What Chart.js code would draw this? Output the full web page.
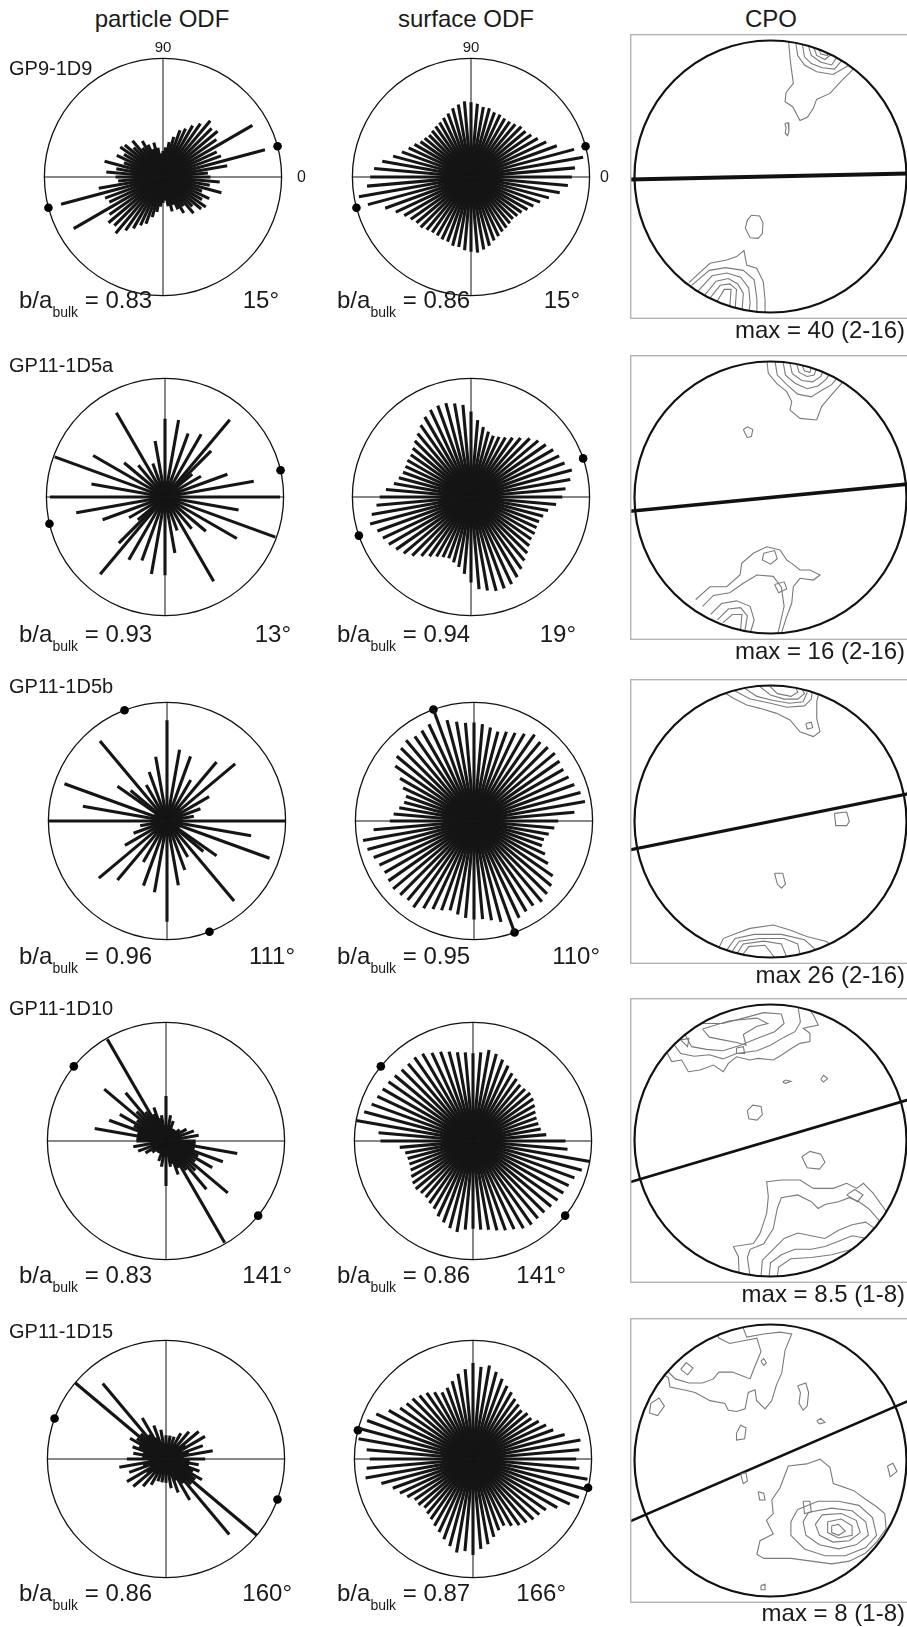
<!DOCTYPE html>
<html>
<head>
<meta charset="utf-8">
<script src="https://cdn.jsdelivr.net/npm/chart.js@4.4.1/dist/chart.umd.min.js"></script>
<style>
  html, body { margin: 0; padding: 0; background: #fff; }
  body { position: relative; width: 907px; height: 1627px; overflow: hidden;
         font-family: 'Liberation Sans', Arial, sans-serif; color: #1a1a1a; }
  canvas { position: absolute; }
  .lbl { position: absolute; white-space: nowrap; line-height: 1; }
</style>
</head>
<body>
<script>
// Datos
const samples = ['GP9-1D9', 'GP11-1D5a', 'GP11-1D5b', 'GP11-1D10', 'GP11-1D15']
const binAngles = [0, 5, 10, 15, 20, 25, 30, 35, 40, 45, 50, 55, 60, 65, 70, 75, 80, 85,
  90, 95, 100, 105, 110, 115, 120, 125, 130, 135, 140, 145, 150, 155, 160, 165, 170, 175]

// Longitudes de los radios (fracción del radio), una por clase de 5°
const particle1 = [0.40, 0.38, 0.55, 0.89, 0.52, 0.50, 0.87, 0.55, 0.60, 0.58, 0.62, 0.55,
  0.50, 0.45, 0.42, 0.35, 0.30, 0.25, 0.22, 0.20, 0.25, 0.30, 0.25, 0.30,
  0.35, 0.30, 0.40, 0.35, 0.42, 0.44, 0.38, 0.43, 0.35, 0.51, 0.40, 0.48]
const particle2 = [0.97, 0, 0.76, 0.10, 0.56, 0.12, 0.35, 0.10, 0.30, 0.55, 0.85, 0.10,
  0.61, 0.12, 0.57, 0.10, 0.66, 0.08, 0.66, 0.10, 0.48, 0.12, 0.30, 0.10,
  0.82, 0.10, 0.35, 0.12, 0.45, 0.10, 0.70, 0.10, 0.99, 0.08, 0.63, 0.10]
const particle3 = [1.00, 0.10, 0.23, 0.08, 0.30, 0.10, 0.41, 0.10, 0.75, 0.15, 0.65, 0.10,
  0.40, 0.12, 0.58, 0.15, 0.61, 0.10, 0.85, 0.12, 0.55, 0.10, 0.44, 0.10,
  0.35, 0.10, 0.88, 0.12, 0.40, 0.51, 0.12, 0.08, 0.92, 0.10, 0.72, 0.08]
const particle4 = [0.25, 0.10, 0.28, 0.12, 0.25, 0.10, 0.20, 0.10, 0.15, 0.08, 0.12, 0.08,
  0.12, 0.08, 0.18, 0.10, 0.22, 0.10, 0.38, 0.10, 0.22, 0.20, 0.30, 0.25,
  0.99, 0.30, 0.53, 0.35, 0.68, 0.30, 0.45, 0.30, 0.51, 0.25, 0.61, 0.25]
const particle5 = [0.33, 0.15, 0.40, 0.20, 0.33, 0.15, 0.38, 0.20, 0.36, 0.15, 0.30, 0.15,
  0.25, 0.12, 0.20, 0.12, 0.20, 0.12, 0.20, 0.12, 0.25, 0.15, 0.30, 0.20,
  0.40, 0.25, 0.83, 0.30, 1.00, 0.30, 0.35, 0.25, 0.30, 0.20, 0.28, 0.20]

const surface1 = [0.85, 0.88, 0.96, 0.90, 0.77, 0.70, 0.65, 0.62, 0.60, 0.60, 0.58, 0.57,
  0.57, 0.58, 0.58, 0.60, 0.60, 0.62, 0.63, 0.64, 0.62, 0.60, 0.57, 0.55,
  0.53, 0.52, 0.51, 0.50, 0.51, 0.52, 0.55, 0.58, 0.62, 0.68, 0.76, 0.82]
const surface2 = [0.77, 0.80, 0.85, 0.88, 0.84, 0.82, 0.80, 0.77, 0.74, 0.70, 0.65, 0.61,
  0.58, 0.56, 0.55, 0.57, 0.60, 0.65, 0.72, 0.78, 0.80, 0.82, 0.82, 0.81,
  0.78, 0.74, 0.70, 0.67, 0.64, 0.62, 0.62, 0.61, 0.61, 0.63, 0.66, 0.72]
const surface3 = [0.71, 0.85, 0.95, 0.93, 0.90, 0.88, 0.87, 0.88, 0.89, 0.88, 0.87, 0.89,
  0.85, 0.82, 0.80, 0.78, 0.80, 0.82, 0.83, 0.83, 0.85, 0.88, 1.00, 0.90,
  0.88, 0.87, 0.89, 0.87, 0.85, 0.81, 0.72, 0.66, 0.61, 0.61, 0.64, 0.68]
const surface4 = [0.78, 0.62, 0.58, 0.57, 0.57, 0.58, 0.60, 0.62, 0.63, 0.62, 0.62, 0.64,
  0.66, 0.70, 0.73, 0.76, 0.78, 0.75, 0.74, 0.75, 0.76, 0.78, 0.80, 0.82,
  0.85, 0.86, 0.85, 0.85, 0.86, 0.87, 0.88, 0.89, 0.91, 0.95, 1.00, 0.80]
const surface5 = [0.87, 0.90, 0.92, 0.80, 0.72, 0.68, 0.64, 0.60, 0.60, 0.58, 0.60, 0.62,
  0.65, 0.68, 0.72, 0.76, 0.80, 0.78, 0.81, 0.76, 0.73, 0.68, 0.64, 0.62,
  0.65, 0.68, 0.70, 0.72, 0.73, 0.75, 0.82, 0.90, 0.95, 1.00, 0.98, 0.90]

// Orientación media (°) y b/a
const particleMean = [15, 13, 111, 141, 160]
const surfaceMean = [15, 19, 110, 141, 166]
const particleBulk = ['0.83', '0.93', '0.96', '0.83', '0.86']
const surfaceBulk = ['0.86', '0.94', '0.95', '0.86', '0.87']

// CPO: máximos, rumbo del plano y contornos (coordenadas de la red, radio 1)
const cpoMax = ['max = 40 (2-16)', 'max = 16 (2-16)', 'max 26 (2-16)', 'max = 8.5 (1-8)', 'max = 8 (1-8)']
const cpoTrend = [1.2, 5.6, 11.4, 16.5, 23.4]

const cpo1 = [
  [0.13, 1.02, 0.148, 0.832, 0.168, 0.685, 0.114, 0.616, 0.107, 0.55, 0.163, 0.513, 0.217, 0.411, 0.271, 0.435, 0.315, 0.501, 0.339, 0.567, 0.437, 0.611, 0.516, 0.697, 0.62, 0.8],
  [0.18, 1.02, 0.2, 0.89, 0.25, 0.82, 0.34, 0.77, 0.46, 0.75, 0.58, 0.82],
  [0.23, 1.0, 0.25, 0.88, 0.3, 0.83, 0.38, 0.8, 0.47, 0.79, 0.53, 0.86],
  [0.27, 0.99, 0.3, 0.89, 0.37, 0.84, 0.45, 0.82, 0.49, 0.88],
  [0.31, 0.97, 0.34, 0.89, 0.4, 0.86, 0.45, 0.9],
  [0.35, 0.95, 0.37, 0.9, 0.42, 0.89, 0.42, 0.92],
  [0.105, 0.39, 0.13, 0.395, 0.135, 0.33, 0.125, 0.3, 0.108, 0.32, 0.115, 0.36, 0.105, 0.39],
  [-0.14, -0.285, -0.08, -0.29, -0.055, -0.34, -0.06, -0.42, -0.09, -0.455, -0.15, -0.45, -0.185, -0.38, -0.17, -0.32, -0.14, -0.285],
  [-0.6, -0.78, -0.445, -0.638, -0.322, -0.614, -0.249, -0.589, -0.195, -0.545, -0.175, -0.651, -0.102, -0.675, -0.053, -0.773, -0.04, -0.908, -0.04, -1.03],
  [-0.58, -0.8, -0.45, -0.69, -0.33, -0.67, -0.2, -0.69, -0.12, -0.76, -0.1, -0.9, -0.1, -1.02],
  [-0.54, -0.85, -0.43, -0.73, -0.32, -0.71, -0.22, -0.74, -0.16, -0.82, -0.15, -0.93, -0.16, -1.0],
  [-0.49, -0.88, -0.4, -0.77, -0.31, -0.75, -0.24, -0.79, -0.2, -0.86, -0.21, -1.0],
  [-0.45, -0.9, -0.37, -0.8, -0.3, -0.79, -0.25, -0.83, -0.26, -0.98],
  [-0.4, -0.93, -0.34, -0.83, -0.29, -0.83, -0.3, -0.96],
]
const cpo2 = [
  [-0.03, 1.03, -0.016, 0.913, 0.045, 0.839, 0.119, 0.778, 0.156, 0.705, 0.143, 0.643, 0.217, 0.582, 0.339, 0.57, 0.376, 0.668, 0.437, 0.741, 0.511, 0.827, 0.56, 0.88],
  [0.03, 1.02, 0.05, 0.9, 0.12, 0.83, 0.2, 0.76, 0.3, 0.74, 0.38, 0.79, 0.45, 0.83, 0.5, 0.89],
  [0.09, 1.01, 0.11, 0.9, 0.18, 0.84, 0.27, 0.8, 0.35, 0.82, 0.41, 0.87, 0.44, 0.92],
  [0.14, 1.0, 0.16, 0.91, 0.23, 0.86, 0.31, 0.85, 0.37, 0.89, 0.39, 0.94],
  [0.19, 0.99, 0.21, 0.92, 0.27, 0.89, 0.32, 0.9, 0.34, 0.95],
  [0.23, 0.98, 0.25, 0.93, 0.29, 0.92, 0.3, 0.96],
  [-0.2, 0.5, -0.17, 0.52, -0.13, 0.5, -0.14, 0.45, -0.17, 0.44, -0.2, 0.5],
  [-0.55, -0.75, -0.445, -0.656, -0.322, -0.656, -0.224, -0.57, -0.212, -0.484, -0.126, -0.41, -0.028, -0.362, 0.07, -0.386, 0.119, -0.46, 0.156, -0.484, 0.217, -0.533, 0.29, -0.533, 0.364, -0.57, 0.315, -0.607, 0.217, -0.594, 0.168, -0.656, 0.156, -0.778, 0.119, -0.876, 0.07, -1.03],
  [-0.05, -0.41, 0.03, -0.39, 0.05, -0.45, 0.0, -0.49, -0.06, -0.46, -0.05, -0.41],
  [-0.5, -0.8, -0.42, -0.72, -0.3, -0.7, -0.2, -0.63, -0.1, -0.57, 0.02, -0.58, 0.08, -0.66, 0.1, -0.8, 0.05, -1.02],
  [0.03, -0.64, 0.1, -0.62, 0.12, -0.67, 0.06, -0.7, 0.03, -0.64],
  [-0.44, -0.86, -0.36, -0.78, -0.25, -0.76, -0.15, -0.8, -0.12, -0.9, -0.15, -1.0],
  [-0.39, -0.9, -0.31, -0.82, -0.22, -0.81, -0.17, -0.87, -0.19, -0.99],
  [-0.35, -0.92, -0.28, -0.86, -0.21, -0.86, -0.22, -0.97],
]
const cpo3 = [
  [-0.39, 0.98, -0.273, 0.906, -0.175, 0.857, -0.077, 0.832, 0.045, 0.795, 0.143, 0.747, 0.217, 0.66, 0.315, 0.624, 0.364, 0.66, 0.34, 0.758, 0.34, 0.881, 0.37, 1.0],
  [-0.32, 0.99, -0.15, 0.9, 0.0, 0.87, 0.12, 0.84, 0.25, 0.85, 0.3, 0.9, 0.31, 0.98],
  [-0.22, 1.0, -0.1, 0.92, 0.02, 0.89, 0.14, 0.87, 0.24, 0.88, 0.27, 0.95],
  [-0.1, 1.01, 0.0, 0.93, 0.1, 0.9, 0.2, 0.9, 0.25, 0.94, 0.22, 1.0],
  [-0.02, 1.01, 0.05, 0.94, 0.15, 0.92, 0.2, 0.95, 0.18, 1.0],
  [0.26, 0.72, 0.3, 0.73, 0.31, 0.69, 0.27, 0.68, 0.26, 0.72],
  [0.47, 0.06, 0.56, 0.07, 0.58, 0.0, 0.56, -0.03, 0.48, -0.03, 0.47, 0.06],
  [0.03, -0.38, 0.09, -0.38, 0.11, -0.46, 0.08, -0.49, 0.05, -0.46, 0.03, -0.38],
  [-0.4, -0.97, -0.346, -0.859, -0.248, -0.822, -0.15, -0.786, 0.021, -0.761, 0.143, -0.798, 0.266, -0.846, 0.413, -0.883, 0.46, -0.93],
  [-0.34, -0.97, -0.26, -0.86, -0.12, -0.83, 0.08, -0.83, 0.25, -0.87, 0.34, -0.95],
  [-0.3, -0.98, -0.23, -0.88, -0.08, -0.86, 0.1, -0.86, 0.2, -0.9, 0.22, -0.99],
  [-0.26, -0.99, -0.2, -0.9, -0.05, -0.88, 0.08, -0.9, 0.12, -1.0],
  [-0.22, -1.0, -0.16, -0.92, -0.04, -0.91, 0.03, -1.0],
]
const cpo4 = [
  [-0.78, 0.68, -0.726, 0.58, -0.653, 0.592, -0.604, 0.506, -0.518, 0.518, -0.42, 0.555, -0.347, 0.506, -0.31, 0.567, -0.249, 0.616, -0.151, 0.592, -0.09, 0.604, 0.021, 0.592, 0.082, 0.629, 0.156, 0.678, 0.217, 0.714, 0.29, 0.727, 0.29, 0.788, 0.241, 0.825, 0.352, 0.849, 0.315, 0.923, 0.26, 1.0],
  [-0.72, 0.72, -0.66, 0.64, -0.56, 0.62, -0.45, 0.63, -0.35, 0.6, -0.25, 0.64, -0.1, 0.66, 0.0, 0.7, 0.1, 0.76, 0.18, 0.8, 0.22, 0.87, 0.2, 1.0],
  [-0.64, 0.8, -0.58, 0.69, -0.47, 0.67, -0.35, 0.66, -0.22, 0.7, -0.1, 0.75, 0.03, 0.8, 0.1, 0.86, 0.08, 0.93, -0.05, 0.94, -0.2, 0.9, -0.35, 0.86, -0.5, 0.86, -0.55, 0.86],
  [-0.5, 0.82, -0.45, 0.76, -0.35, 0.74, -0.25, 0.72, -0.18, 0.7, -0.2, 0.78, -0.1, 0.84, -0.02, 0.86, -0.1, 0.9, -0.3, 0.88, -0.5, 0.82],
  [-0.25, 0.68, -0.2, 0.69, -0.19, 0.64, -0.25, 0.64, -0.25, 0.68],
  [-0.66, 0.74, -0.6, 0.75, -0.61, 0.69, -0.66, 0.74],
  [0.09, 0.43, 0.11, 0.445, 0.15, 0.435, 0.11, 0.42, 0.09, 0.43],
  [0.37, 0.45, 0.39, 0.48, 0.42, 0.455, 0.39, 0.43, 0.37, 0.45],
  [-0.17, 0.22, -0.13, 0.26, -0.07, 0.25, -0.06, 0.19, -0.1, 0.15, -0.16, 0.16, -0.17, 0.22],
  [0.23, -0.12, 0.29, -0.08, 0.37, -0.1, 0.4, -0.16, 0.36, -0.21, 0.27, -0.2, 0.23, -0.12],
  [-0.23, -1.0, -0.236, -0.854, -0.273, -0.78, -0.126, -0.757, -0.077, -0.683, -0.028, -0.536, -0.016, -0.413, -0.028, -0.303, 0.082, -0.29, 0.217, -0.29, 0.315, -0.352, 0.462, -0.352, 0.56, -0.315, 0.634, -0.352, 0.683, -0.315, 0.756, -0.389, 0.85, -0.52],
  [-0.15, -1.0, -0.17, -0.86, -0.15, -0.8, -0.05, -0.76, 0.02, -0.65, 0.05, -0.5, 0.08, -0.42, 0.2, -0.4, 0.3, -0.45, 0.35, -0.5, 0.4, -0.47, 0.5, -0.45, 0.58, -0.42, 0.65, -0.45, 0.72, -0.5, 0.81, -0.6],
  [0.56, -0.4, 0.62, -0.36, 0.68, -0.4, 0.64, -0.45, 0.56, -0.4],
  [-0.07, -1.0, -0.06, -0.88, 0.02, -0.8, 0.1, -0.72, 0.2, -0.68, 0.3, -0.7, 0.4, -0.72, 0.5, -0.66, 0.6, -0.62, 0.7, -0.6, 0.77, -0.65],
  [-0.01, -1.0, 0.0, -0.9, 0.08, -0.84, 0.18, -0.8, 0.3, -0.8, 0.4, -0.78, 0.5, -0.74, 0.6, -0.7, 0.71, -0.72],
  [0.05, -1.0, 0.06, -0.93, 0.15, -0.87, 0.3, -0.86, 0.45, -0.84, 0.6, -0.8],
]
const cpo5 = [
  [-0.21, 1.0, -0.175, 0.907, -0.05, 0.93, 0.07, 0.944, 0.156, 0.931, 0.107, 0.81, 0.082, 0.64, 0.045, 0.56, 0.009, 0.44, -0.04, 0.38, -0.102, 0.44, -0.114, 0.52, -0.163, 0.5, -0.187, 0.38, -0.249, 0.36, -0.31, 0.37, -0.335, 0.42, -0.445, 0.44, -0.555, 0.5, -0.616, 0.515, -0.739, 0.54, -0.751, 0.61, -0.8, 0.64],
  [-0.76, 0.66, -0.7, 0.6, -0.6, 0.57, -0.5, 0.57, -0.42, 0.6, -0.38, 0.65, -0.28, 0.65, -0.2, 0.62, -0.15, 0.6, -0.12, 0.68, -0.07, 0.8, -0.1, 0.9, -0.2, 0.88, -0.3, 0.86, -0.38, 0.9, -0.4, 0.95],
  [-0.66, 0.67, -0.62, 0.72, -0.57, 0.68, -0.61, 0.63, -0.66, 0.67],
  [-0.07, 0.73, -0.05, 0.75, -0.03, 0.72, -0.05, 0.7, -0.07, 0.73],
  [0.2, 0.55, 0.26, 0.57, 0.28, 0.5, 0.27, 0.4, 0.24, 0.37, 0.21, 0.42, 0.22, 0.5, 0.2, 0.55],
  [0.34, 0.29, 0.37, 0.31, 0.4, 0.28, 0.36, 0.27, 0.34, 0.29],
  [-0.25, 0.2, -0.22, 0.26, -0.18, 0.24, -0.19, 0.16, -0.25, 0.15, -0.25, 0.2],
  [-0.88, 0.42, -0.82, 0.46, -0.78, 0.4, -0.83, 0.33, -0.89, 0.35, -0.88, 0.42],
  [-0.22, -0.1, -0.18, -0.09, -0.17, -0.15, -0.2, -0.17, -0.22, -0.1],
  [-0.09, -0.23, -0.05, -0.24, -0.04, -0.29, -0.08, -0.29, -0.09, -0.23],
  [0.86, -0.04, 0.9, -0.02, 0.93, -0.08, 0.88, -0.12, 0.86, -0.04],
  [0.131, -0.04, 0.266, -0.025, 0.364, 0.01, 0.437, -0.05, 0.462, -0.17, 0.609, -0.22, 0.707, -0.29, 0.78, -0.34, 0.84, -0.39, 0.85, -0.5, 0.78, -0.6, 0.7, -0.68, 0.58, -0.74, 0.45, -0.76, 0.3, -0.74, 0.15, -0.72, -0.05, -0.72, -0.1, -0.69, -0.077, -0.59, 0.02, -0.54, -0.03, -0.44, 0.02, -0.39, 0.01, -0.29, 0.07, -0.2, 0.131, -0.04],
  [0.2, -0.36, 0.35, -0.3, 0.5, -0.3, 0.65, -0.33, 0.75, -0.42, 0.78, -0.55, 0.7, -0.64, 0.55, -0.7, 0.4, -0.7, 0.25, -0.65, 0.15, -0.55, 0.15, -0.45, 0.2, -0.36],
  [0.28, -0.38, 0.45, -0.35, 0.6, -0.37, 0.7, -0.45, 0.72, -0.55, 0.63, -0.62, 0.5, -0.65, 0.36, -0.62, 0.26, -0.55, 0.24, -0.45, 0.28, -0.38],
  [0.38, -0.4, 0.52, -0.39, 0.63, -0.44, 0.66, -0.53, 0.58, -0.59, 0.46, -0.6, 0.36, -0.55, 0.33, -0.47, 0.38, -0.4],
  [0.42, -0.45, 0.52, -0.43, 0.6, -0.48, 0.6, -0.55, 0.5, -0.57, 0.42, -0.53, 0.42, -0.45],
  [0.45, -0.48, 0.5, -0.47, 0.55, -0.52, 0.5, -0.55, 0.45, -0.53, 0.45, -0.48],
  [0.24, -0.3, 0.29, -0.3, 0.3, -0.38, 0.25, -0.39, 0.24, -0.3],
  [-0.07, -0.92, -0.04, -0.91, -0.04, -0.95, -0.07, -0.95, -0.07, -0.92],
]

const particleRows = [particle1, particle2, particle3, particle4, particle5]
const surfaceRows = [surface1, surface2, surface3, surface4, surface5]
const cpoRows = [cpo1, cpo2, cpo3, cpo4, cpo5]

// Maquetación (px)
const R = 122.5
const RC = 136
const rowY = [176.5, 497, 820.5, 1141, 1458.5]
const particleX = [163, 165, 167, 166, 166]
const surfaceX = [471, 471, 474, 473, 473]
const cpoX = 770.5
const cpoY = [176.5, 497.5, 821.5, 1140.5, 1460]
const cpoLine = [4, 3.6, 3.3, 2.8, 2.6]
const sampleBase = [75, 372, 693, 1015, 1338]
const bulkBase = [308, 642, 964, 1283, 1601]
const particleDegRight = [279, 291, 295, 292, 292]
const surfaceDegRight = [580, 576, 600, 566, 566]

const toRad = (d) => (d * Math.PI) / 180

// Textos
function addText(html, x, baseline, size, align) {
  const d = document.createElement('div')
  d.className = 'lbl'
  d.innerHTML = html
  d.style.fontSize = size + 'px'
  d.style.top = baseline - size * 0.8465 + 'px'
  if (align === 'center') {
    d.style.left = x - 150 + 'px'
    d.style.width = '300px'
    d.style.textAlign = 'center'
  } else if (align === 'right') {
    d.style.left = x - 300 + 'px'
    d.style.width = '300px'
    d.style.textAlign = 'right'
  } else {
    d.style.left = x + 'px'
  }
  document.body.appendChild(d)
}

function bulkHtml(v) {
  return 'b/a<span style="font-size:14px;position:relative;top:9px">bulk</span> = ' + v
}

// Marco de la rosa: círculo y ejes
const roseFrame = {
  id: 'roseFrame',
  beforeDatasetsDraw(chart) {
    const { ctx } = chart
    const { x, y } = chart.scales
    const cx = x.getPixelForValue(0)
    const cy = y.getPixelForValue(0)
    const r = x.getPixelForValue(1) - cx
    ctx.save()
    ctx.strokeStyle = '#111'
    ctx.lineWidth = 1
    ctx.beginPath()
    ctx.moveTo(cx - r, cy)
    ctx.lineTo(cx + r, cy)
    ctx.moveTo(cx, cy - r)
    ctx.lineTo(cx, cy + r)
    ctx.stroke()
    ctx.lineWidth = 1.3
    ctx.beginPath()
    ctx.arc(cx, cy, r, 0, Math.PI * 2)
    ctx.stroke()
    ctx.restore()
  },
}

function roseChart(cx, cy, lengths, mean) {
  const S = 270
  const ext = S / 2 / R
  const canvas = document.createElement('canvas')
  canvas.width = S
  canvas.height = S
  canvas.style.left = cx - S / 2 + 'px'
  canvas.style.top = cy - S / 2 + 'px'
  document.body.appendChild(canvas)

  const datasets = []
  lengths.forEach((len, i) => {
    if (!len) return
    const a = toRad(binAngles[i])
    const dx = len * Math.cos(a)
    const dy = len * Math.sin(a)
    datasets.push({
      data: [{ x: -dx, y: -dy }, { x: dx, y: dy }],
      showLine: true,
      borderColor: '#151515',
      borderWidth: 3.1,
      borderCapStyle: 'butt',
      pointRadius: 0,
    })
  })
  const m = toRad(mean)
  datasets.push({
    data: [{ x: Math.cos(m), y: Math.sin(m) }, { x: -Math.cos(m), y: -Math.sin(m) }],
    showLine: false,
    pointRadius: 4.3,
    pointBackgroundColor: '#000',
    pointBorderWidth: 0,
  })

  new Chart(canvas, {
    type: 'scatter',
    data: { datasets },
    options: {
      responsive: false,
      animation: false,
      devicePixelRatio: 1,
      events: [],
      layout: { padding: 0 },
      plugins: { legend: { display: false }, tooltip: { enabled: false } },
      scales: {
        x: { type: 'linear', min: -ext, max: ext, display: false },
        y: { type: 'linear', min: -ext, max: ext, display: false },
      },
    },
    plugins: [roseFrame],
  })
}

// Marco del CPO: caja, contornos recortados y red
const cpoFrame = {
  id: 'cpoFrame',
  beforeDatasetDraw(chart, args) {
    if (!args.meta._dataset.contour) return
    const { ctx } = chart
    const { x, y } = chart.scales
    const cx = x.getPixelForValue(0)
    const cy = y.getPixelForValue(0)
    ctx.save()
    ctx.beginPath()
    ctx.arc(cx, cy, x.getPixelForValue(1) - cx, 0, Math.PI * 2)
    ctx.clip()
  },
  afterDatasetDraw(chart, args) {
    if (args.meta._dataset.contour) chart.ctx.restore()
  },
  afterDatasetsDraw(chart) {
    const { ctx, width, height } = chart
    const { x, y } = chart.scales
    const cx = x.getPixelForValue(0)
    const cy = y.getPixelForValue(0)
    ctx.save()
    ctx.strokeStyle = '#111'
    ctx.lineWidth = 2.2
    ctx.beginPath()
    ctx.arc(cx, cy, x.getPixelForValue(1) - cx, 0, Math.PI * 2)
    ctx.stroke()
    ctx.strokeStyle = '#b4b4b4'
    ctx.lineWidth = 1.4
    ctx.strokeRect(0.7, 0.7, width - 1.4, height - 1.4)
    ctx.restore()
  },
}

function cpoChart(cy, contours, trend, lw) {
  const W = 290
  const H = 285
  const left = 630
  const canvas = document.createElement('canvas')
  canvas.width = W
  canvas.height = H
  canvas.style.left = left + 'px'
  canvas.style.top = cy - H / 2 + 'px'
  document.body.appendChild(canvas)

  const datasets = contours.map((c) => {
    const pts = []
    for (let i = 0; i < c.length; i += 2) pts.push({ x: c[i], y: c[i + 1] })
    return {
      data: pts,
      contour: true,
      showLine: true,
      borderColor: '#7a7a7a',
      borderWidth: 1.1,
      pointRadius: 0,
      tension: 0,
    }
  })
  const t = toRad(trend)
  datasets.push({
    data: [{ x: -1.4 * Math.cos(t), y: -1.4 * Math.sin(t) }, { x: 1.4 * Math.cos(t), y: 1.4 * Math.sin(t) }],
    showLine: true,
    borderColor: '#111',
    borderWidth: lw,
    pointRadius: 0,
  })

  new Chart(canvas, {
    type: 'scatter',
    data: { datasets },
    options: {
      responsive: false,
      animation: false,
      devicePixelRatio: 1,
      events: [],
      layout: { padding: 0 },
      plugins: { legend: { display: false }, tooltip: { enabled: false } },
      scales: {
        x: { type: 'linear', min: (left - cpoX) / RC, max: (left + W - cpoX) / RC, display: false },
        y: { type: 'linear', min: -H / 2 / RC, max: H / 2 / RC, display: false },
      },
    },
    plugins: [cpoFrame],
  })
}

// Construcción
for (let i = 0; i < 5; i++) {
  roseChart(particleX[i], rowY[i], particleRows[i], particleMean[i])
  roseChart(surfaceX[i], rowY[i], surfaceRows[i], surfaceMean[i])
  cpoChart(cpoY[i], cpoRows[i], cpoTrend[i], cpoLine[i])

  addText(samples[i], 9, sampleBase[i], 20, 'left')
  addText(bulkHtml(particleBulk[i]), 19, bulkBase[i], 24, 'left')
  addText(particleMean[i] + '°', particleDegRight[i], bulkBase[i], 24, 'right')
  addText(bulkHtml(surfaceBulk[i]), 337, bulkBase[i], 24, 'left')
  addText(surfaceMean[i] + '°', surfaceDegRight[i], bulkBase[i], 24, 'right')
  addText(cpoMax[i], 905, cpoY[i] + 142.5 + 19, 24, 'right')
}

addText('particle ODF', 162, 27, 24, 'center')
addText('surface ODF', 466, 27, 24, 'center')
addText('CPO', 771, 27, 24, 'center')
addText('90', particleX[0], 52, 15, 'center')
addText('90', surfaceX[0], 52, 15, 'center')
addText('0', 297, 183, 16, 'left')
addText('0', 600, 183, 16, 'left')
</script>
</body>
</html>
